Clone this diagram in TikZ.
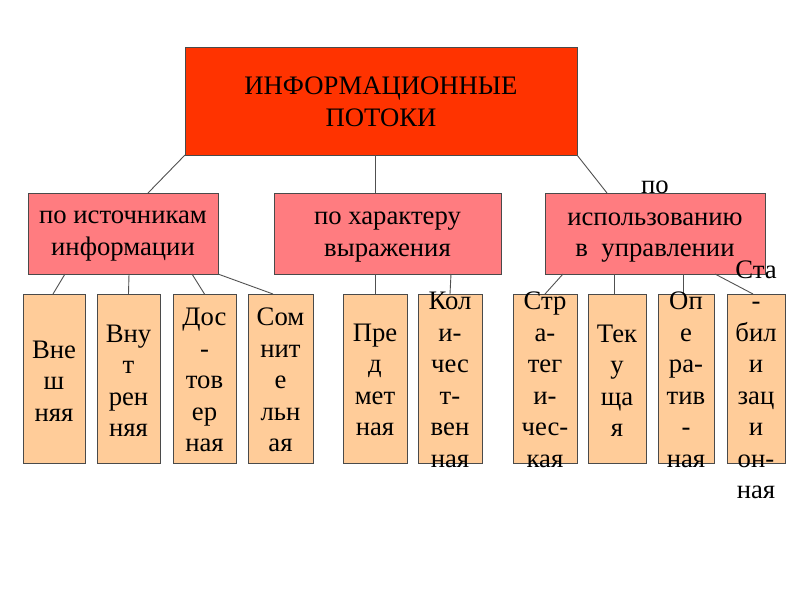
\documentclass[tikz,border=0pt]{standalone}
\usepackage{fontspec}
\setmainfont{Liberation Serif}
\definecolor{topfill}{HTML}{FF3300}
\definecolor{midfill}{HTML}{FF7C80}
\definecolor{lowfill}{HTML}{FFCC99}
\definecolor{edgecol}{HTML}{4A4A4A}
\definecolor{linkcol}{HTML}{505050}
\tikzset{
  box/.style={draw=edgecol, line width=0.9pt, inner sep=0pt, outer sep=0pt, rectangle},
  topbox/.style={box, fill=topfill, minimum width=392pt, minimum height=108pt},
  midbox/.style={box, fill=midfill, minimum height=81pt},
  lowbox/.style={box, fill=lowfill, minimum height=169pt},
  txt/.style={align=center, inner sep=0pt, font=\fontsize{26.7}{31.5}\selectfont, text=black},
  link/.style={draw=linkcol, line width=0.9pt}
}
\begin{document}
\begin{tikzpicture}[x=1pt,y=-1pt]
\useasboundingbox (0,0) rectangle (800,600);
% boxes
\node[topbox] (top) at (381,101) {};
\node[midbox, minimum width=190pt] (mL) at (123,233.5) {};
\node[midbox, minimum width=227pt] (mM) at (387.5,233.5) {};
\node[midbox, minimum width=220pt] (mR) at (655,233.5) {};
\node[lowbox, minimum width=62pt] (b1) at (54,378.5) {};
\node[lowbox, minimum width=63pt] (b2) at (128.5,378.5) {};
\node[lowbox, minimum width=63pt] (b3) at (204.5,378.5) {};
\node[lowbox, minimum width=65pt] (b4) at (280.5,378.5) {};
\node[lowbox, minimum width=64pt] (b5) at (375,378.5) {};
\node[lowbox, minimum width=64pt] (b6) at (450,378.5) {};
\node[lowbox, minimum width=64pt] (b7) at (545,378.5) {};
\node[lowbox, minimum width=58pt] (b8) at (617,378.5) {};
\node[lowbox, minimum width=56pt] (b9) at (686,378.5) {};
\node[lowbox, minimum width=58pt] (b10) at (756,378.5) {};
% connectors
\draw[link] (top.south west) -- ([xshift=25pt]mL.north);
\draw[link] ([xshift=-6pt]top.south) -- ([xshift=-12.5pt]mM.north);
\draw[link] (top.south east) -- ([xshift=-48pt]mR.north);
\draw[link] ([xshift=-58pt]mL.south) -- ([xshift=-1pt]b1.north);
\draw[link] ([xshift=6pt]mL.south) -- (b2.north);
\draw[link] ([xshift=69pt]mL.south) -- (b3.north);
\draw[link] (mL.south east) -- ([xshift=-7.5pt]b4.north);
\draw[link] ([xshift=-12.5pt]mM.south) -- (b5.north);
\draw[link] ([xshift=63.5pt]mM.south) -- (b6.north);
\draw[link] ([xshift=-92pt]mR.south) -- (b7.north);
\draw[link] ([xshift=-41pt]mR.south) -- ([xshift=-3pt]b8.north);
\draw[link] ([xshift=28pt]mR.south) -- ([xshift=-3pt]b9.north);
\draw[link] ([xshift=60pt]mR.south) -- ([xshift=-3pt]b10.north);
% texts
\node[txt] (ttop) at (381,102) {ИНФОРМАЦИОННЫЕ\\ПОТОКИ};
\node[txt] (tmL) at (123,236) {по источникам\\информации};
\node[txt] (tmM) at (387.5,237) {по характеру\\выражения};
\node[txt] (tmR) at (655,222) {по\\использованию\\в~~управлении};
\node[txt] (t1) at (54,381) {Вне\\ш\\няя};
\node[txt] (t2) at (128.5,381) {Вну\\т\\рен\\няя};
\node[txt] (t3) at (204.5,380) {Дос\\-\\тов\\ер\\ная};
\node[txt] (t4) at (280.5,380) {Сом\\нит\\е\\льн\\ая};
\node[txt] (t5) at (375,380) {Пре\\д\\мет\\ная};
\node[txt] (t6) at (450,380) {Кол\\и-\\чес\\т-\\вен\\ная};
\node[txt] (t7) at (545,380) {Стр\\а-\\тег\\и-\\чес-\\кая};
\node[txt] (t8) at (617,381) {Тек\\у\\ща\\я};
\node[txt] (t9) at (686,380) {Оп\\е\\ра-\\тив\\-\\ная};
\node[txt] (t10) at (756,380) {Ста\\-\\бил\\и\\зац\\и\\он-\\ная};
\end{tikzpicture}
\end{document}
